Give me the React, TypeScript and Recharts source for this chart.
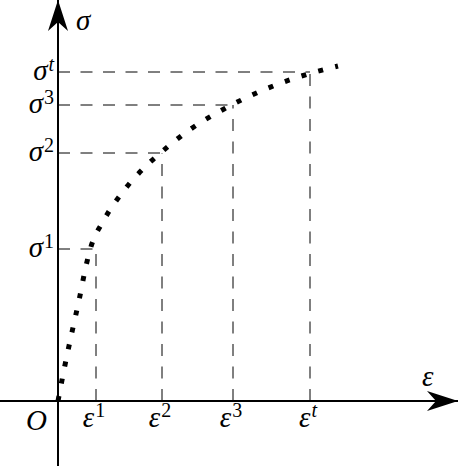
import React from 'react';
import { ComposedChart, Line, XAxis, YAxis, ReferenceLine, ReferenceDot } from 'recharts';

// strain (ε) / stress (σ) values
const curveEps = [0, 0.7, 1.4, 2.13, 2.8, 3.2, 4.6, 6.47, 8.9, 10.3, 13.27, 16.6, 20.07, 23.73, 28];
const curveSig = [0, 3.6, 6.9, 10.2, 13.5, 15.1, 18.1, 20.9, 23.6, 24.85, 27.2, 29.2, 30.9, 32.3, 33.5];

// marked points
const markEps = [3.8, 10.4, 17.5, 25.2];
const markSig = [15.2, 24.8, 29.6, 32.9];
const markSup = ['1', '2', '3', 't'];

const xDomain: [number, number] = [-5.8, 40];
const yDomain: [number, number] = [-6.5, 40.1];

const data = curveEps.map((e, i) => ({ eps: e, sig: curveSig[i] }));

const FONT = '"Liberation Serif", "DejaVu Serif", serif';
const BASE = 29;
const SUP = 20;

const supStyle = (s: string) => (s === 't' ? 'italic' : 'normal');

const SigmaLabel = (props: any) => {
  const { cx, cy, sup } = props;
  return (
    <text x={cx - 4} y={cy + 8} textAnchor="end" fontFamily={FONT} fontSize={BASE} fontStyle="italic" fill="#000">
      σ
      <tspan dx={1} dy={-9} fontSize={SUP} fontStyle={supStyle(sup)}>{sup}</tspan>
    </text>
  );
};

const EpsLabel = (props: any) => {
  const { cx, cy, sup } = props;
  return (
    <text x={cx - 2} y={cy + 26} textAnchor="middle" fontFamily={FONT} fontSize={BASE} fontStyle="italic" fill="#000">
      ε
      <tspan dx={1} dy={-10} fontSize={SUP} fontStyle={supStyle(sup)}>{sup}</tspan>
    </text>
  );
};

const OriginLabel = (props: any) => {
  const { cx, cy } = props;
  return (
    <text x={cx - 11} y={cy + 29} textAnchor="end" fontFamily={FONT} fontSize={BASE} fontStyle="italic" fill="#000">
      O
    </text>
  );
};

const TopArrow = (props: any) => {
  const { cx, cy } = props;
  return (
    <g>
      <path d={`M${cx},${cy} L${cx - 10},${cy + 31} L${cx},${cy + 22} L${cx + 10},${cy + 31} Z`} fill="#000" />
      <text x={cx + 18} y={cy + 30} fontFamily={FONT} fontSize={BASE} fontStyle="italic" fill="#000">σ</text>
    </g>
  );
};

const RightArrow = (props: any) => {
  const { cx, cy } = props;
  return (
    <g>
      <path d={`M${cx},${cy} L${cx - 31},${cy - 10} L${cx - 22},${cy} L${cx - 31},${cy + 10} Z`} fill="#000" />
      <text x={cx - 36} y={cy - 15} fontFamily={FONT} fontSize={BASE} fontStyle="italic" fill="#000">ε</text>
    </g>
  );
};

export default function App() {
  return (
    <div style={{ position: 'fixed', left: 0, top: 0, width: 458, height: 466, background: '#fff' }}>
      <ComposedChart width={458} height={466} data={data} margin={{ top: 0, right: 0, bottom: 0, left: 0 }}>
        <XAxis dataKey="eps" type="number" domain={xDomain} allowDataOverflow hide />
        <YAxis type="number" domain={yDomain} allowDataOverflow hide />
        {markEps.map((e, i) => (
          <ReferenceLine
            key={`h${i}`}
            segment={[{ x: 0, y: markSig[i] }, { x: e, y: markSig[i] }]}
            stroke="#000"
            strokeWidth={1}
            strokeDasharray="12 10.5"
            ifOverflow="visible"
          />
        ))}
        {markEps.map((e, i) => (
          <ReferenceLine
            key={`v${i}`}
            segment={[{ x: e, y: 0 }, { x: e, y: markSig[i] }]}
            stroke="#000"
            strokeWidth={1}
            strokeDasharray="12 10.5"
            ifOverflow="visible"
          />
        ))}
        <ReferenceLine y={0} stroke="#000" strokeWidth={2} ifOverflow="visible" />
        <ReferenceLine x={0} stroke="#000" strokeWidth={2} ifOverflow="visible" />
        <Line
          dataKey="sig"
          type="monotone"
          stroke="#000"
          strokeWidth={5}
          strokeDasharray="5 12.5"
          strokeLinecap="butt"
          dot={false}
          activeDot={false}
          isAnimationActive={false}
        />
        {markEps.map((e, i) => (
          <ReferenceDot key={`sl${i}`} x={0} y={markSig[i]} r={0} ifOverflow="visible"
            shape={(p: any) => <SigmaLabel {...p} sup={markSup[i]} />} />
        ))}
        {markEps.map((e, i) => (
          <ReferenceDot key={`el${i}`} x={e} y={0} r={0} ifOverflow="visible"
            shape={(p: any) => <EpsLabel {...p} sup={markSup[i]} />} />
        ))}
        <ReferenceDot x={0} y={0} r={0} ifOverflow="visible" shape={(p: any) => <OriginLabel {...p} />} />
        <ReferenceDot x={0} y={yDomain[1]} r={0} ifOverflow="visible" shape={(p: any) => <TopArrow {...p} />} />
        <ReferenceDot x={xDomain[1]} y={0} r={0} ifOverflow="visible" shape={(p: any) => <RightArrow {...p} />} />
      </ComposedChart>
    </div>
  );
}
